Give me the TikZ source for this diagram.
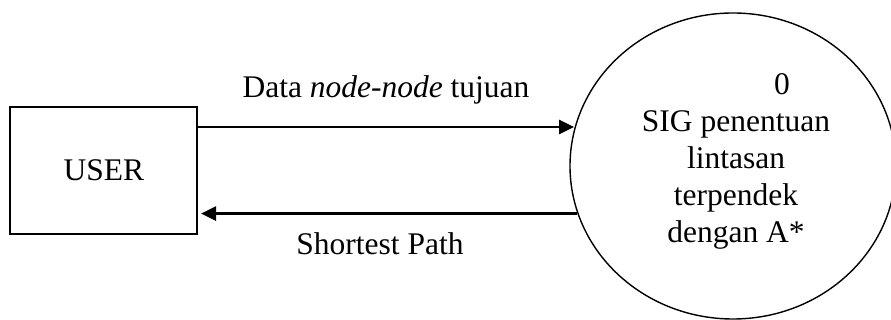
\documentclass[tikz,border=0pt]{standalone}
\usepackage{fontspec}
\setmainfont{Liberation Serif}
\usetikzlibrary{shapes.geometric,arrows.meta}
\tikzset{
  entity/.style={draw, line width=1.6pt, minimum width=187pt, minimum height=127pt, inner sep=0pt},
  process/.style={draw, ellipse, line width=1.4pt, minimum width=326pt, minimum height=306pt, inner sep=0pt},
  flow/.style={line width=2.6pt, -{Triangle[length=15pt, width=14pt]}},
  lbl/.style={font=\fontsize{31.5}{36.7}\selectfont, inner sep=0pt, anchor=base}
}
\begin{document}
\begin{tikzpicture}[x=1pt, y=1pt]
  \useasboundingbox (0,0) rectangle (891,320);
  % external entity and the single process
  \node[entity] (user) at (103.5,149.5) {};
  \node[lbl, anchor=center] (usertxt) at (104,150) {USER};
  \node[process] (proc) at (733,154) {};
  % process number and name
  \node[lbl] (pnum) at (782,225) {0};
  \node[lbl] (p1) at (736,188) {SIG penentuan};
  \node[lbl] (p2) at (736,151.3) {lintasan};
  \node[lbl] (p3) at (736,114.6) {terpendek};
  \node[lbl] (p4) at (736,77.9) {dengan A*};
  % data flows
  \coordinate (inStart) at (user.east |- 0,193);
  \coordinate (inEnd) at (574,193);
  \coordinate (outStart) at (proc.197);
  \coordinate (outEnd) at (201,107);
  \draw[flow] (inStart) -- (inEnd);
  \draw[flow] (outStart) -- (outStart -| outEnd);
  \node[lbl] (inlbl) at (386,222) {Data \textit{node-node} tujuan};
  \node[lbl] (outlbl) at (380,65) {Shortest Path};
\end{tikzpicture}
\end{document}
